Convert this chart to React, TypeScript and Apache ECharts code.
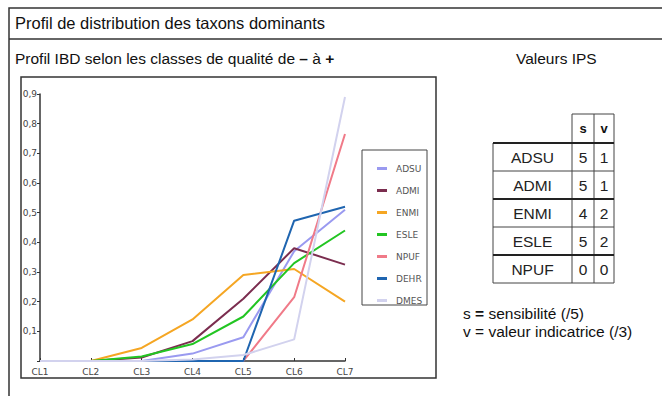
import React, { useEffect, useRef } from "react";
import * as echarts from "echarts";

const categories = ["CL1", "CL2", "CL3", "CL4", "CL5", "CL6", "CL7"];
const seriesNames = ["ADSU", "ADMI", "ENMI", "ESLE", "NPUF", "DEHR", "DMES"];
const seriesColors = ["#9a9af0", "#7b2d4f", "#f5a623", "#22c522", "#f07a88", "#1f65b0", "#d2d2ee"];
const adsu = [0, 0, 0, 0.025, 0.08, 0.37, 0.51];
const admi = [0, 0, 0.012, 0.067, 0.21, 0.38, 0.325];
const enmi = [0, 0, 0.044, 0.14, 0.29, 0.31, 0.2];
const esle = [0, 0, 0.015, 0.057, 0.15, 0.33, 0.44];
const npuf = [0, 0, 0, 0, 0, 0.215, 0.765];
const dehr = [0, 0, 0, 0, 0, 0.473, 0.52];
const dmes = [0, 0, 0, 0.005, 0.02, 0.073, 0.89];
const seriesValues = [adsu, admi, enmi, esle, npuf, dehr, dmes];

const tableTaxa = ["ADSU", "ADMI", "ENMI", "ESLE", "NPUF"];
const tableS = [5, 5, 4, 5, 0];
const tableV = [1, 1, 2, 2, 0];

export default function App() {
  const ref = useRef<HTMLDivElement>(null);
  useEffect(() => {
    const chart = echarts.init(ref.current!, null, { renderer: "svg" });
    const font = "'Liberation Sans', Arial, sans-serif";
    const els: any[] = [];
    // outer frame
    els.push({ type: "rect", shape: { x: 9, y: 8, width: 720, height: 420 }, style: { fill: "none", stroke: "#333", lineWidth: 1.5 }, silent: true });
    els.push({ type: "line", shape: { x1: 9, y1: 39, x2: 662, y2: 39 }, style: { stroke: "#333", lineWidth: 1.5 } });
    els.push({ type: "text", x: 15, y: 23, style: { text: "Profil de distribution des taxons dominants", font: `16.5px ${font}`, fill: "#111", verticalAlign: "middle" } });
    els.push({
      type: "text", x: 15, y: 58,
      style: {
        text: "Profil IBD selon les classes de qualité de {b|–} à {b|+}",
        font: `15.5px ${font}`, fill: "#111", verticalAlign: "middle",
        rich: { b: { fontWeight: "bold", fontSize: 15.5, fontFamily: font, fill: "#111" } },
      },
    });
    els.push({ type: "text", x: 516, y: 58, style: { text: "Valeurs IPS", font: `15.5px ${font}`, fill: "#111", verticalAlign: "middle" } });
    // chart box
    els.push({ type: "rect", shape: { x: 21, y: 77, width: 415, height: 301 }, style: { fill: "none", stroke: "#333", lineWidth: 1.5 }, z: 0 });
    // legend box
    els.push({ type: "rect", shape: { x: 362, y: 150, width: 65, height: 155 }, style: { fill: "none", stroke: "#444", lineWidth: 1 }, z: 0 });

    // table
    const xL = 493, xS = 572, xV = 594, xR = 614;
    const top = 114, headBottom = 143, rowH = 28;
    const lineStyle = { stroke: "#444", lineWidth: 1 };
    const thick = { stroke: "#222", lineWidth: 2 };
    const yEnd = headBottom + rowH * tableTaxa.length;
    els.push({ type: "line", shape: { x1: xS, y1: top, x2: xR, y2: top }, style: lineStyle });
    els.push({ type: "line", shape: { x1: xS, y1: top, x2: xS, y2: yEnd }, style: lineStyle });
    els.push({ type: "line", shape: { x1: xV, y1: top, x2: xV, y2: yEnd }, style: lineStyle });
    els.push({ type: "line", shape: { x1: xR, y1: top, x2: xR, y2: yEnd }, style: lineStyle });
    els.push({ type: "line", shape: { x1: xL, y1: headBottom, x2: xL, y2: yEnd }, style: lineStyle });
    els.push({ type: "text", x: (xS + xV) / 2, y: (top + headBottom) / 2, style: { text: "s", font: `bold 13px ${font}`, fill: "#111", align: "center", verticalAlign: "middle" } });
    els.push({ type: "text", x: (xV + xR) / 2, y: (top + headBottom) / 2, style: { text: "v", font: `bold 13px ${font}`, fill: "#111", align: "center", verticalAlign: "middle" } });
    for (let i = 0; i <= tableTaxa.length; i++) {
      const y = headBottom + rowH * i;
      const st = i === 0 || i === 2 || i === 4 ? thick : lineStyle;
      els.push({ type: "line", shape: { x1: xL, y1: y, x2: xR, y2: y }, style: st });
    }
    tableTaxa.forEach((t, i) => {
      const cy = headBottom + rowH * i + rowH / 2;
      els.push({ type: "text", x: (xL + xS) / 2, y: cy, style: { text: t, font: `15.5px ${font}`, fill: "#222", align: "center", verticalAlign: "middle" } });
      els.push({ type: "text", x: (xS + xV) / 2, y: cy, style: { text: String(tableS[i]), font: `15.5px ${font}`, fill: "#222", align: "center", verticalAlign: "middle" } });
      els.push({ type: "text", x: (xV + xR) / 2, y: cy, style: { text: String(tableV[i]), font: `15.5px ${font}`, fill: "#222", align: "center", verticalAlign: "middle" } });
    });
    els.push({
      type: "text", x: 463, y: 313,
      style: { text: "s {b|=} sensibilité (/5)", font: `15.5px ${font}`, fill: "#111", verticalAlign: "middle", rich: { b: { fontWeight: "bold", fontSize: 15.5, fontFamily: font, fill: "#111" } } },
    });
    els.push({
      type: "text", x: 463, y: 331,
      style: { text: "v = valeur indicatrice (/3)", font: `15.5px ${font}`, fill: "#111", verticalAlign: "middle" },
    });

    chart.setOption({
      animation: false,
      grid: { left: 40, right: 317, top: 94, bottom: 35, containLabel: false },
      xAxis: {
        type: "category",
        data: categories,
        boundaryGap: false,
        axisLine: { lineStyle: { color: "#333", width: 1.5 } },
        axisTick: { show: true, inside: true, length: 3, lineStyle: { color: "#333" } },
        axisLabel: { color: "#444", fontSize: 9, fontFamily: "'DejaVu Sans', sans-serif", margin: 6 },
      },
      yAxis: {
        type: "value",
        min: 0,
        max: 0.9,
        interval: 0.1,
        splitLine: { show: false },
        axisLine: { show: true, lineStyle: { color: "#333", width: 1.5 } },
        axisTick: { show: true, length: 3, lineStyle: { color: "#333" } },
        axisLabel: {
          color: "#444", fontSize: 9, fontFamily: "'DejaVu Sans', sans-serif", margin: 3,
          formatter: (v: number) => (v === 0 ? "" : (Math.round(v * 10) / 10).toFixed(1).replace(".", ",")),
        },
      },
      legend: {
        orient: "vertical",
        left: 372,
        top: 158,
        itemGap: 11,
        itemWidth: 10,
        itemHeight: 3,
        icon: "rect",
        data: seriesNames,
        textStyle: { color: "#555", fontSize: 9, fontFamily: "'DejaVu Sans', sans-serif", lineHeight: 11, padding: [0, 0, 0, 4] },
      },
      series: seriesNames.map((n, i) => ({
        name: n,
        type: "line",
        data: seriesValues[i],
        showSymbol: false,
        symbol: "none",
        color: seriesColors[i],
        lineStyle: { width: 2, color: seriesColors[i] },
      })),
      graphic: { elements: els },
    });
    return () => chart.dispose();
  }, []);
  return <div ref={ref} style={{ position: "fixed", left: 0, top: 0, width: 662, height: 396, background: "#fff" }} />;
}
